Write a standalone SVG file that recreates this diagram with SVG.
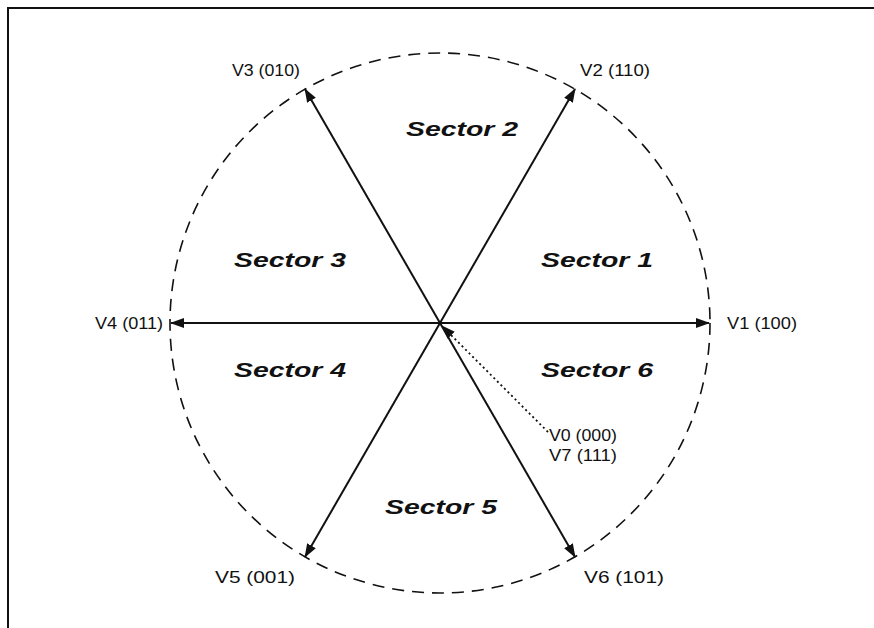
<svg xmlns="http://www.w3.org/2000/svg" width="874" height="628" viewBox="0 0 874 628">
<style>
.sec{font-family:"Liberation Sans",Arial,sans-serif;font-size:21px;font-weight:bold;font-style:italic;fill:#111}
.lbl{font-family:"Liberation Sans",Arial,sans-serif;font-size:16px;fill:#111}
.vec{stroke:#111;stroke-width:2;fill:none;marker-end:url(#ah)}
</style>
<defs>
<marker id="ah" viewBox="0 0 14 10" refX="13" refY="5" markerWidth="14" markerHeight="10" markerUnits="userSpaceOnUse" orient="auto">
<path d="M0,0 L14,5 L0,10 Z" fill="#111"/>
</marker>
</defs>
<rect width="874" height="628" fill="#fff"/>
<path d="M8,628 V8 H874" fill="none" stroke="#111" stroke-width="2"/>
<g id="circle">
<circle cx="440" cy="323" r="270" fill="none" stroke="#111" stroke-width="1.6" stroke-dasharray="12 8"/>
</g>
<g id="connectors">
<line class="vec" x1="440" y1="323" x2="709" y2="323"/>
<line class="vec" x1="440" y1="323" x2="171" y2="323"/>
<line class="vec" x1="440" y1="323" x2="575" y2="89"/>
<line class="vec" x1="440" y1="323" x2="305" y2="89"/>
<line class="vec" x1="440" y1="323" x2="305" y2="557"/>
<line class="vec" x1="440" y1="323" x2="575" y2="557"/>
<line x1="548" y1="432" x2="442" y2="326" stroke="#111" stroke-width="1.8" stroke-dasharray="2 3" marker-end="url(#ah)"/>
</g>
<g id="sector1"><text class="sec" x="541" y="267" textLength="112" lengthAdjust="spacingAndGlyphs">Sector 1</text></g>
<g id="sector2"><text class="sec" x="406" y="136" textLength="112" lengthAdjust="spacingAndGlyphs">Sector 2</text></g>
<g id="sector3"><text class="sec" x="234" y="267" textLength="112" lengthAdjust="spacingAndGlyphs">Sector 3</text></g>
<g id="sector4"><text class="sec" x="234" y="377" textLength="112" lengthAdjust="spacingAndGlyphs">Sector 4</text></g>
<g id="sector5"><text class="sec" x="385" y="514" textLength="112" lengthAdjust="spacingAndGlyphs">Sector 5</text></g>
<g id="sector6"><text class="sec" x="541" y="377" textLength="112" lengthAdjust="spacingAndGlyphs">Sector 6</text></g>
<g id="v1"><text class="lbl" x="727" y="329" textLength="70" lengthAdjust="spacingAndGlyphs">V1 (100)</text></g>
<g id="v4"><text class="lbl" x="95" y="329" textLength="68" lengthAdjust="spacingAndGlyphs">V4 (011)</text></g>
<g id="v2"><text class="lbl" x="580" y="76" textLength="70" lengthAdjust="spacingAndGlyphs">V2 (110)</text></g>
<g id="v3"><text class="lbl" x="232" y="76" textLength="68" lengthAdjust="spacingAndGlyphs">V3 (010)</text></g>
<g id="v5"><text class="lbl" x="215" y="583" textLength="80" lengthAdjust="spacingAndGlyphs">V5 (001)</text></g>
<g id="v6"><text class="lbl" x="584" y="583" textLength="80" lengthAdjust="spacingAndGlyphs">V6 (101)</text></g>
<g id="v0v7">
<text class="lbl" x="549" y="441" textLength="68" lengthAdjust="spacingAndGlyphs">V0 (000)</text>
<text class="lbl" x="549" y="461" textLength="68" lengthAdjust="spacingAndGlyphs">V7 (111)</text>
</g>
</svg>
